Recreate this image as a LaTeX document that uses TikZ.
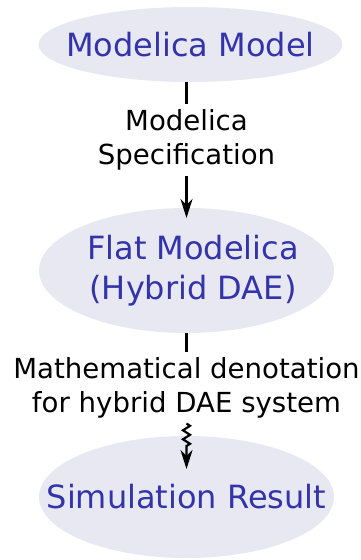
\documentclass[tikz,border=0pt]{standalone}
\usepackage{fontspec}
\setmainfont{DejaVu Sans}
\usetikzlibrary{positioning, arrows.meta, shapes.geometric, decorations.pathmorphing}

\definecolor{stagefill}{RGB}{232,232,242}
\definecolor{stagetext}{RGB}{51,51,170}

\begin{document}
\begin{tikzpicture}[
        x=1pt, y=-1pt,
        stage/.style={ellipse, fill=stagefill, text=stagetext, inner xsep=-40pt, inner ysep=0pt, align=center, font=\fontsize{32}{40}\selectfont},
        edgetext/.style={inner sep=5pt, align=center, font=\fontsize{27.6}{34}\selectfont},
        link/.style={line width=2.2pt},
        arrow/.style={link, -{Stealth[length=19pt, width=12pt, inset=6pt]}},
        wavy/.style={arrow, decorate, decoration={zigzag, segment length=9pt, amplitude=3.5pt, post length=47pt}}
      ]
        \useasboundingbox (0,0) rectangle (361,560);

        % Stages
        \node[stage, minimum width=304pt, minimum height=75pt] (model) at (190.5,44.5) {Modelica Model};

        \node[stage, minimum width=295pt, minimum height=125pt] (flat) at (186.5,270.5) {\hspace*{13pt}Flat Modelica\\\hspace*{13pt}(Hybrid DAE)};

        \node[stage, minimum width=295pt, minimum height=122pt] (result) at (186.5,497) {Simulation Result};

        % Edge texts
        \node[edgetext] (spec) at (186.5,140) {Modelica\\Specification};
        \node[edgetext] (denot) at (186.5,388) {Mathematical denotation\\for hybrid DAE system};

        % Arrows
        \draw[link] (spec.north |- model.south) -- (spec);
        \draw[arrow, shorten >=52.5pt] (spec) -- (flat.center);
        \draw[link] (flat) -- (denot);
        \draw[wavy, shorten >=28pt] (denot) -- (result.center);
      \end{tikzpicture}
\end{document}
